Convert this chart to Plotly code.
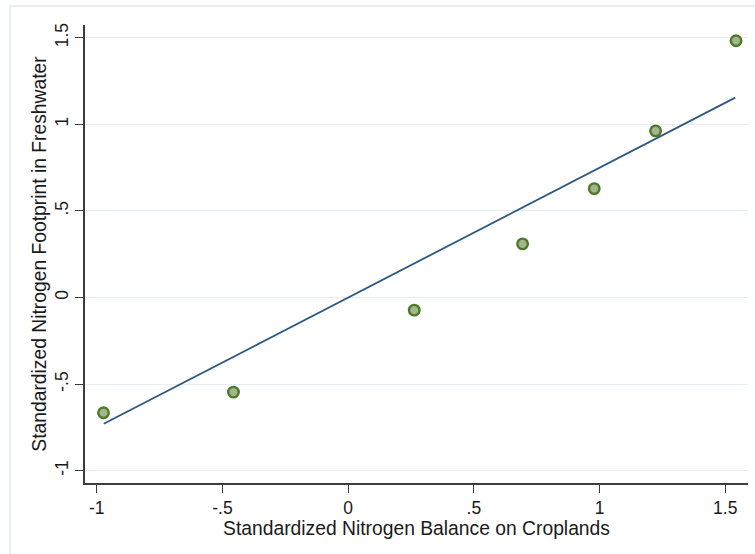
import plotly.graph_objects as go

# Standardized values per observation
balance = [-0.973, -0.456, 0.263, 0.694, 0.979, 1.223, 1.543]
footprint = [-0.665, -0.546, -0.073, 0.310, 0.629, 0.962, 1.483]

# Linear fit evaluated at the ends of the observed range
fit_x = [-0.972, 1.540]
fit_y = [-0.729, 1.154]

tick_vals = [-1, -0.5, 0, 0.5, 1, 1.5]
tick_text = ["-1", "-.5", "0", ".5", "1", "1.5"]

font_family = "Liberation Sans, Arial, sans-serif"
text_color = "#1a1a1a"
axis_color = "#3c3c3c"
grid_color = "#e6eef1"

fig = go.Figure()

fig.add_trace(go.Scatter(
    x=fit_x, y=fit_y, mode="lines",
    line=dict(color="#2c5884", width=1.8),
    showlegend=False, hoverinfo="skip",
))

fig.add_trace(go.Scatter(
    x=balance, y=footprint, mode="markers",
    marker=dict(size=10.5, color="#a3b48f", line=dict(color="#4d7a27", width=2.4)),
    showlegend=False,
))

fig.update_layout(
    width=755, height=554,
    margin=dict(l=85, r=7, t=25, b=71),
    paper_bgcolor="white", plot_bgcolor="white",
    font=dict(family=font_family, color=text_color, size=17.5),
    xaxis=dict(
        range=[-1.0466, 1.5906],
        tickvals=tick_vals, ticktext=tick_text,
        ticks="outside", ticklen=8, tickwidth=1.3, tickcolor=axis_color,
        showline=True, linecolor=axis_color, linewidth=1.5,
        showgrid=False, zeroline=False,
        tickfont=dict(size=17.5),
        title=dict(text="Standardized Nitrogen Balance on Croplands",
                   font=dict(size=19.3), standoff=0),
    ),
    yaxis=dict(
        range=[-1.071, 1.5736],
        tickvals=tick_vals, ticktext=tick_text, tickangle=-90,
        ticks="outside", ticklen=8, tickwidth=1.3, tickcolor=axis_color,
        showline=True, linecolor=axis_color, linewidth=1.5,
        showgrid=True, gridcolor=grid_color, gridwidth=1.3,
        zeroline=False,
        tickfont=dict(size=17.5),
        title=dict(text="Standardized Nitrogen Footprint in Freshwater",
                   font=dict(size=19.3), standoff=0),
    ),
    shapes=[dict(
        type="rect", xref="paper", yref="paper",
        x0=-0.113, x1=1.3, y0=-0.4, y1=1.0415,
        line=dict(color="#e8eff3", width=2), layer="below",
    )],
)

fig.write_html("out.html")
